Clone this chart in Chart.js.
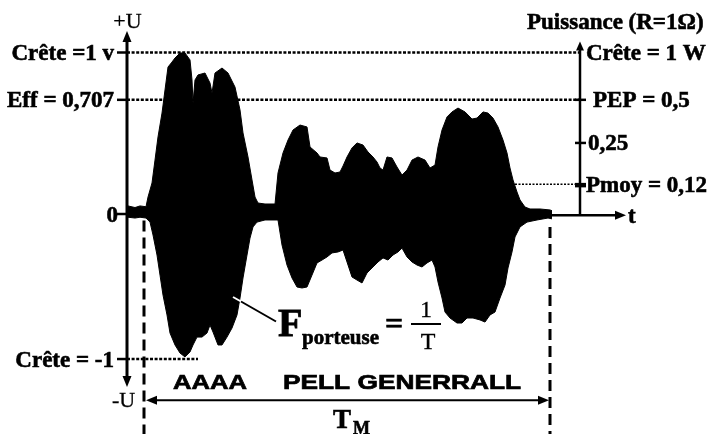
<!DOCTYPE html>
<html><head><meta charset="utf-8">
<script src="https://cdn.jsdelivr.net/npm/chart.js@4/dist/chart.umd.min.js"></script>
<style>html,body{margin:0;padding:0;background:#fff;}canvas{display:block;}</style>
</head><body>
<canvas id="c" width="713" height="434"></canvas>
<script>
// ---- data (time in screen units, amplitude in volts) ----
const upperT = [128,135,140,146,148,152,155,158,162,165,168,172,175,180,185,190,192,193,195,198,205,210,212,215,222,228,235,240,243,248,252,255,258,265,275,278,283,288,293,300,307,310,317,320,327,330,335,340,343,347,352,357,363,368,373,377,380,383,387,392,397,402,407,412,418,425,430,435,438,442,447,452,458,465,472,477,483,488,493,498,503,507,510,513,517,520,525,530,540,550,552];
const upperV = [0.05,0.04,0.05,0.045,0.105,0.192,0.334,0.477,0.625,0.768,0.910,0.941,0.966,0.997,0.997,0.954,0.830,0.687,0.830,0.861,0.873,0.811,0.749,0.873,0.904,0.873,0.786,0.644,0.502,0.353,0.211,0.105,0.068,0.062,0.062,0.254,0.378,0.458,0.520,0.551,0.539,0.415,0.378,0.353,0.347,0.272,0.254,0.26,0.297,0.353,0.409,0.440,0.427,0.384,0.353,0.322,0.285,0.272,0.353,0.347,0.291,0.241,0.272,0.334,0.353,0.334,0.285,0.303,0.415,0.520,0.601,0.632,0.656,0.632,0.588,0.594,0.632,0.625,0.594,0.539,0.458,0.378,0.285,0.211,0.136,0.087,0.043,0.031,0.031,0.025,0.02];
const lowerT = [128,135,140,146,150,153,157,160,163,167,170,175,180,185,190,193,197,202,207,210,213,218,222,227,232,237,240,243,247,250,253,257,265,278,282,287,292,297,302,307,312,317,322,327,332,338,343,347,352,357,362,367,373,378,383,388,393,398,402,407,412,417,422,427,432,435,438,442,445,450,457,462,467,473,480,485,490,495,500,505,508,512,515,520,527,537,548,552];
const lowerV = [-0.02,-0.025,-0.02,-0.025,-0.050,-0.130,-0.254,-0.378,-0.502,-0.625,-0.737,-0.811,-0.861,-0.885,-0.854,-0.811,-0.762,-0.762,-0.737,-0.687,-0.731,-0.811,-0.811,-0.762,-0.706,-0.625,-0.520,-0.396,-0.254,-0.149,-0.080,-0.050,-0.037,-0.037,-0.192,-0.316,-0.396,-0.452,-0.458,-0.452,-0.378,-0.303,-0.285,-0.266,-0.241,-0.235,-0.223,-0.297,-0.390,-0.409,-0.427,-0.365,-0.328,-0.297,-0.272,-0.285,-0.254,-0.235,-0.211,-0.266,-0.297,-0.316,-0.328,-0.303,-0.285,-0.328,-0.421,-0.520,-0.607,-0.644,-0.675,-0.675,-0.644,-0.644,-0.656,-0.669,-0.625,-0.607,-0.520,-0.440,-0.334,-0.235,-0.142,-0.080,-0.050,-0.037,-0.025,-0.03];

// voltage axis labels and the level (V) they mark
const voltLabels = ['Crête =1 v','Eff = 0,707','0','Crête = -1'];
const voltLevels = [1, 0.707, 0, -0.898];
// power axis labels and the level (on the voltage scale) they mark
const powerLabels = ['Crête = 1 W','PEP = 0,5','0,25','Pmoy = 0,12'];
const powerLevels = [1, 0.707, 0.44, 0.185];
const speechWords = ['AAAA','PELL GENERRALL'];

const upperData = upperT.map((t,i)=>({x:t,y:upperV[i]}));
const lowerData = lowerT.map((t,i)=>({x:t,y:lowerV[i]}));

const SERIF = '"Liberation Serif","Times New Roman",serif';
const SANS = '"Liberation Sans",Arial,sans-serif';

const deco = {
  id:'deco',
  beforeDatasetsDraw(chart){
    const ctx = chart.ctx, X = v=>chart.scales.x.getPixelForValue(v), Y = v=>chart.scales.y.getPixelForValue(v);
    ctx.save();
    ctx.strokeStyle='#000';
    // dotted reference lines
    ctx.lineWidth=2.5; ctx.setLineDash([3,1.6]);
    [voltLevels[0], voltLevels[1]].forEach(l=>{
      ctx.beginPath(); ctx.moveTo(X(127),Y(l)); ctx.lineTo(X(580),Y(l)); ctx.stroke();
    });
    ctx.beginPath(); ctx.moveTo(X(127),Y(voltLevels[3])); ctx.lineTo(X(198),Y(voltLevels[3])); ctx.stroke();
    ctx.lineWidth=1.5; ctx.setLineDash([2,1.5]);
    ctx.beginPath(); ctx.moveTo(X(515),Y(powerLevels[3])); ctx.lineTo(X(580),Y(powerLevels[3])); ctx.stroke();
    ctx.setLineDash([]);
    // time axis
    ctx.lineWidth=2.5;
    ctx.beginPath(); ctx.moveTo(X(127),Y(-0.008)); ctx.lineTo(X(618),Y(-0.008)); ctx.stroke();
    ctx.restore();
  },
  afterDatasetsDraw(chart){
    const ctx = chart.ctx, X = v=>chart.scales.x.getPixelForValue(v), Y = v=>chart.scales.y.getPixelForValue(v);
    const tri=(x,y,dir,len=10,half=4)=>{
      ctx.beginPath();
      if(dir==='up'){ctx.moveTo(x,y);ctx.lineTo(x-half,y+len);ctx.lineTo(x+half,y+len);}
      if(dir==='down'){ctx.moveTo(x,y);ctx.lineTo(x-half,y-len);ctx.lineTo(x+half,y-len);}
      if(dir==='right'){ctx.moveTo(x,y);ctx.lineTo(x-len,y-half);ctx.lineTo(x-len,y+half);}
      if(dir==='left'){ctx.moveTo(x,y);ctx.lineTo(x+len,y-half);ctx.lineTo(x+len,y+half);}
      ctx.closePath(); ctx.fill();
    };
    const txt=(s,x,y,w=0.6)=>{ ctx.fillText(s,x,y); if(w>0){ctx.lineWidth=w; ctx.strokeText(s,x,y);} };
    ctx.save();
    ctx.strokeStyle='#000'; ctx.fillStyle='#000';
    // left voltage axis
    const xl = X(127);
    ctx.lineWidth=3;
    ctx.beginPath(); ctx.moveTo(xl,Y(1.10)); ctx.lineTo(xl,Y(-1.04)); ctx.stroke();
    tri(xl,Y(1.133),'up',11,4.5); tri(xl,Y(-1.071),'down',11,4.5);
    ctx.lineWidth=2.5;
    voltLevels.forEach(l=>{ctx.beginPath();ctx.moveTo(X(117),Y(l));ctx.lineTo(xl,Y(l));ctx.stroke();});
    // right power axis
    const xr = X(580);
    ctx.lineWidth=2.5;
    ctx.beginPath(); ctx.moveTo(xr,Y(1.03)); ctx.lineTo(xr,Y(-0.008)); ctx.stroke();
    tri(xr,Y(1.068),'up',9,4);
    powerLevels.forEach((l,i)=>{ if(i===0) return; ctx.beginPath();ctx.moveTo(X(575),Y(l));ctx.lineTo(X(586),Y(l));ctx.stroke();});
    ctx.beginPath();ctx.moveTo(X(575),Y(powerLevels[3])+2);ctx.lineTo(X(586),Y(powerLevels[3])+2);ctx.stroke();
    tri(X(626),Y(-0.008),'right',11,4.5);
    // dashed verticals
    ctx.lineWidth=3; ctx.setLineDash([11,6]);
    [[144,-0.04],[550,-0.08]].forEach(([t,v])=>{ctx.beginPath();ctx.moveTo(X(t),Y(v));ctx.lineTo(X(t),Y(-1.40));ctx.stroke();});
    ctx.setLineDash([]);
    // T_M arrow
    const yt = Y(-1.153);
    ctx.lineWidth=2;
    ctx.beginPath(); ctx.moveTo(X(150),yt); ctx.lineTo(X(544),yt); ctx.stroke();
    tri(X(146),yt,'left',11,4.5); tri(X(549),yt,'right',11,4.5);
    // leader line to F_porteuse
    ctx.lineWidth=2;
    ctx.strokeStyle='#fff';
    ctx.beginPath(); ctx.moveTo(233,297); ctx.lineTo(241,301.5); ctx.stroke();
    ctx.strokeStyle='#000';
    ctx.beginPath(); ctx.moveTo(241,301.5); ctx.lineTo(276,321.5); ctx.stroke();

    // ---- texts ----
    ctx.textBaseline='alphabetic';
    ctx.font='bold 23px '+SERIF;
    ctx.textAlign='right';
    voltLabels.forEach((s,i)=>{
      const x = s==='0'? 118 : 114;
      txt(s, x, Y(voltLevels[i])+7.5);
    });
    ctx.textAlign='left';
    const powX=[586,593,588,586];
    powerLabels.forEach((s,i)=>{ txt(s, powX[i], Y(powerLevels[i])+7.5); });
    txt('Puissance (R=1Ω)', 527, 29);
    txt('t', 628, 223);
    ctx.font='22px '+SERIF;
    ctx.textAlign='center';
    txt('+U', 127.5, 28, 0.3);
    ctx.textAlign='left';
    txt('-U', 112, 407, 0.3);
    // speech words (wide bold sans)
    ctx.font='bold 21px '+SANS;
    const wordBox=[[173,74],[283,238]];
    speechWords.forEach((w,i)=>{
      const m=ctx.measureText(w).width, sx=wordBox[i][1]/m;
      ctx.save(); ctx.translate(wordBox[i][0],389); ctx.scale(sx,1);
      ctx.fillText(w,0,0); ctx.lineWidth=0.7; ctx.strokeText(w,0,0); ctx.restore();
    });
    // T_M
    ctx.font='bold 27px '+SERIF; txt('T',333,428);
    ctx.font='bold 18px '+SERIF; txt('M',353,434);
    // F_porteuse = 1/T
    ctx.font='bold 40px '+SERIF; txt('F',278,336,0.8);
    ctx.font='bold 21px '+SERIF; txt('porteuse',302,344);
    ctx.font='bold 32px '+SERIF; txt('=',385,334);
    ctx.font='24px '+SERIF; ctx.textAlign='center';
    txt('1',426,317,0.3);
    txt('T',428,349,0.3);
    ctx.lineWidth=2; ctx.beginPath(); ctx.moveTo(411,324); ctx.lineTo(441,324); ctx.stroke();
    ctx.restore();
  }
};

new Chart(document.getElementById('c'),{
  type:'line',
  data:{datasets:[
    {data:upperData, borderColor:'#000', backgroundColor:'#000', borderWidth:1, fill:'origin', pointRadius:0, tension:0},
    {data:lowerData, borderColor:'#000', backgroundColor:'#000', borderWidth:1, fill:'origin', pointRadius:0, tension:0}
  ]},
  options:{
    responsive:false, animation:false, events:[],
    layout:{padding:0},
    plugins:{legend:{display:false}, tooltip:{enabled:false}},
    scales:{
      x:{type:'linear', min:0, max:713, display:false},
      y:{type:'linear', min:-1.3622, max:1.3251, display:false}
    }
  },
  plugins:[deco]
});
</script>
</body></html>
